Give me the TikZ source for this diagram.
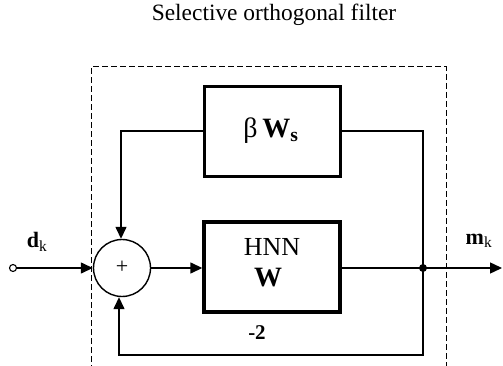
\documentclass[tikz,border=0pt]{standalone}
\usepackage{fontspec}
\setmainfont{Liberation Serif}
\usetikzlibrary{arrows.meta}
\begin{document}
\begin{tikzpicture}[x=1pt,y=-1pt,
  blk/.style={draw,line width=3.4pt,minimum width=136pt,minimum height=90pt,inner sep=0pt},
  conn/.style={line width=1.4pt},
  arr/.style={conn,-{Triangle[length=12pt,width=11pt]}},
  frame/.style={line width=1pt,dash pattern=on 6pt off 3pt},
  txt/.style={inner sep=0pt}]
\clip (0,0) rectangle (503,366);
\fill[white] (0,0) rectangle (503,366);
\node[txt,font=\fontsize{23.4}{26}\selectfont] (title) at (274,15) {Selective orthogonal filter};
\draw[frame] (91,380) -- (91,67) -- (446,67) -- (446,380);
\node[blk] (ws) at (272.5,131.5) {};
\node[txt,font=\fontsize{28}{30}\selectfont] (wslbl) at (271,131) {β\,\textbf{W}\textsubscript{\textbf{s}}};
\node[blk] (hnn) at (272,267) {};
\node[txt,font=\fontsize{26}{28}\selectfont] (hnnlbl) at (272,247) {HNN};
\node[txt,font=\fontsize{28}{30}\selectfont\bfseries] (wlbl) at (268,278) {W};
\node[txt,font=\fontsize{21}{24}\selectfont\bfseries] (m2) at (257,333) {-2};
\node[draw,circle,line width=1.4pt,minimum size=57pt,inner sep=0pt] (sum) at (122,268) {};
\node[txt,font=\fontsize{22}{24}\selectfont] (plus) at (122,267) {+};
\node[draw,circle,line width=1.1pt,minimum size=7pt,inner sep=0pt] (in) at (13,268) {};
\node[txt,font=\fontsize{22}{24}\selectfont] (dk) at (37,242) {\textbf{d}\textsubscript{k}};
\node[txt,font=\fontsize{22}{24}\selectfont] (mk) at (479,241) {\textbf{m}\textsubscript{k}};
\coordinate (split) at (423,268);
\coordinate (out) at (502,268);
\coordinate (tr) at (423,131);
\coordinate (tl) at (121,131);
\coordinate (br) at (423,355);
\coordinate (bl) at (119,355);
\fill (split) circle (4pt);
\draw[arr] (in) -- (sum);
\draw[arr] (sum) -- (hnn.west |- sum);
\draw[conn] (hnn.east |- split) -- (split);
\draw[arr] (split) -- (out);
\draw[conn] (split) -- (tr) -- (ws.east |- tr);
\draw[arr] (ws.west |- tl) -- (tl) -- (tl |- sum.north);
\draw[arr] (split) -- (br) -- (bl) -- (bl |- sum.south);
\end{tikzpicture}
\end{document}
